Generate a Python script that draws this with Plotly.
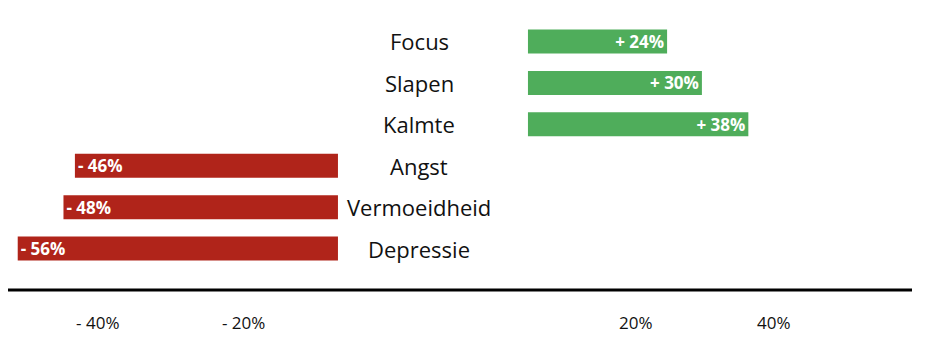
import plotly.graph_objects as go

# Data
categories_order = ["Focus", "Slapen", "Kalmte", "Angst", "Vermoeidheid", "Depressie"]
neg_categories = ["Angst", "Vermoeidheid", "Depressie"]
neg_values = [-46, -48, -56]
pos_categories = ["Focus", "Slapen", "Kalmte"]
pos_values = [24, 30, 38]
neg_tick_vals = [-42, -16.5]
neg_tick_text = ["- 40%", "- 20%"]
pos_tick_vals = [18.6, 42.4]
pos_tick_text = ["20%", "40%"]

RED = "#B0241A"
GREEN = "#4FAD5B"

fig = go.Figure()
fig.add_trace(go.Bar(
    y=neg_categories, x=neg_values, orientation="h",
    marker=dict(color=RED, line=dict(width=0)), width=0.58,
    text=[f"- {abs(v)}%" for v in neg_values],
    textposition="inside", insidetextanchor="end", textangle=0, constraintext="none",
    textfont=dict(family="Open Sans", size=17, color="white", weight="bold"),
    xaxis="x", yaxis="y", hoverinfo="skip", showlegend=False,
))
fig.add_trace(go.Bar(
    y=pos_categories, x=pos_values, orientation="h",
    marker=dict(color=GREEN, line=dict(width=0)), width=0.58,
    text=[f"+ {v}%" for v in pos_values],
    textposition="inside", insidetextanchor="end", textangle=0, constraintext="none",
    textfont=dict(family="Open Sans", size=17, color="white", weight="bold"),
    xaxis="x2", yaxis="y", hoverinfo="skip", showlegend=False,
))

for c in categories_order:
    fig.add_annotation(
        x=0.455, xref="paper", y=c, yref="y", text=c, showarrow=False,
        xanchor="center", yanchor="middle",
        font=dict(family="Open Sans", size=22, color="#111111"),
    )

fig.add_shape(type="line", xref="paper", yref="paper", x0=0, x1=1, y0=0, y1=0,
              line=dict(color="black", width=3))

fig.update_layout(
    width=932, height=346,
    margin=dict(l=8, r=20, t=10, b=56),
    paper_bgcolor="white", plot_bgcolor="white",
    barmode="overlay",
    font=dict(family="Open Sans", color="#111111"),
    xaxis=dict(domain=[0, 0.365], range=[-57.7, 0], showgrid=False, zeroline=False,
               showline=False, tickvals=neg_tick_vals, ticktext=neg_tick_text,
               ticks="", ticklabelstandoff=21, tickfont=dict(size=17, family="Open Sans")),
    xaxis2=dict(domain=[0.575, 1], range=[0, 66.2], anchor="y", showgrid=False,
                zeroline=False, showline=False, tickvals=pos_tick_vals,
                ticktext=pos_tick_text, ticks="", ticklabelstandoff=21,
                tickfont=dict(size=17, family="Open Sans")),
    yaxis=dict(categoryorder="array", categoryarray=categories_order[::-1],
               range=[-1, 5.76], showticklabels=False, showgrid=False,
               zeroline=False, showline=False, ticks=""),
)

fig.write_html("out.html")
